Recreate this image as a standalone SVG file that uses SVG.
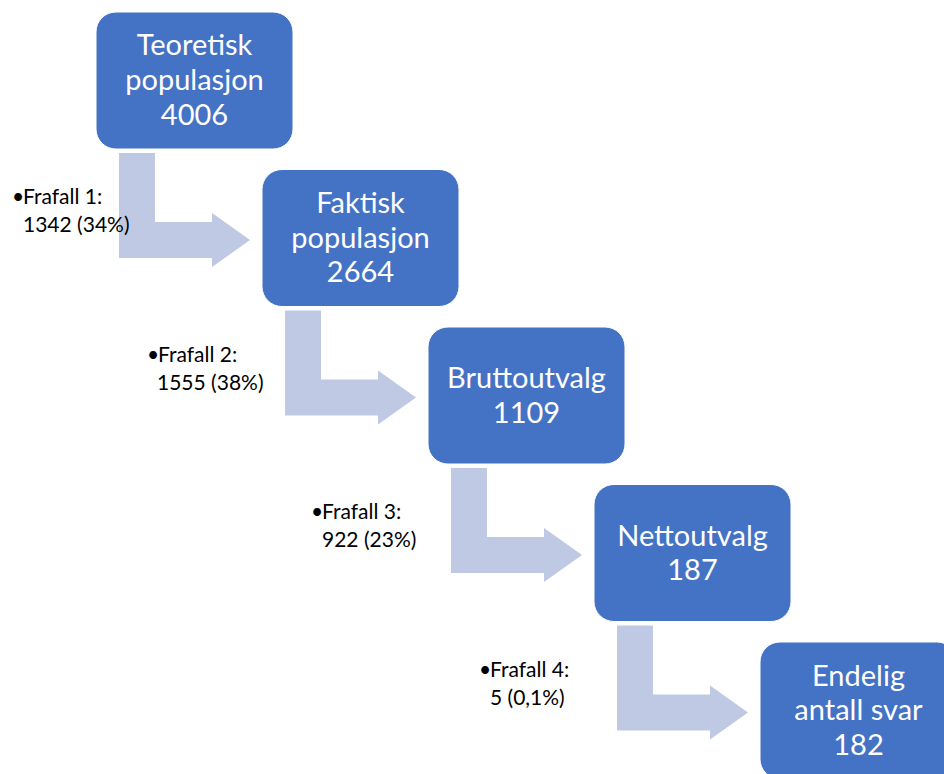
<svg xmlns="http://www.w3.org/2000/svg" width="944" height="774" viewBox="0 0 944 774">
<style>
.box{fill:#4472C4;stroke:#ffffff;stroke-width:1}
.bt{font-family:Lato,"Liberation Sans",sans-serif;font-size:29px;fill:#ffffff;text-anchor:middle}
.arr{fill:#BFC9E4}
.lb{font-family:Lato,"Liberation Sans",sans-serif;font-size:21px;fill:#000000}
</style>
<rect width="944" height="774" fill="#ffffff"/>
<g id="connectors">
<path class="arr" d="M119,153 H155 V222 H212 V213 L250,240 L212,267 V258 H119 Z"/>
<path class="arr" d="M285,310.5 H321 V379.5 H378 V370.5 L416,397.5 L378,424.5 V415.5 H285 Z"/>
<path class="arr" d="M451,468 H487 V537 H544 V528 L582,555 L544,582 V573 H451 Z"/>
<path class="arr" d="M617,625.5 H653 V694.5 H710 V685.5 L748,712.5 L710,739.5 V730.5 H617 Z"/>
</g>
<g id="labels">
<g id="label1"><text class="lb" x="12" y="204">•</text><text class="lb" x="23" y="204">Frafall 1:</text><text class="lb" x="23" y="232">1342 (34%)</text></g>
<g id="label2"><text class="lb" x="147" y="361.5">•</text><text class="lb" x="158" y="361.5">Frafall 2:</text><text class="lb" x="157" y="389.5">1555 (38%)</text></g>
<g id="label3"><text class="lb" x="311" y="519">•</text><text class="lb" x="322" y="519">Frafall 3:</text><text class="lb" x="322" y="547">922 (23%)</text></g>
<g id="label4"><text class="lb" x="479" y="676.5">•</text><text class="lb" x="490" y="676.5">Frafall 4:</text><text class="lb" x="490" y="704.5">5 (0,1%)</text></g>
</g>
<g id="node1"><rect class="box" x="96" y="12" width="197" height="137" rx="20"/>
<text class="bt" x="194.5" y="55">Teoretisk</text><text class="bt" x="194.5" y="90">populasjon</text><text class="bt" x="194.5" y="124.5">4006</text></g>
<g id="node2"><rect class="box" x="262" y="169.5" width="197" height="137" rx="20"/>
<text class="bt" x="360.5" y="213">Faktisk</text><text class="bt" x="360.5" y="247.5">populasjon</text><text class="bt" x="360.5" y="282">2664</text></g>
<g id="node3"><rect class="box" x="428" y="327" width="197" height="137" rx="20"/>
<text class="bt" x="526.5" y="388">Bruttoutvalg</text><text class="bt" x="526.5" y="422.5">1109</text></g>
<g id="node4"><rect class="box" x="594" y="484.5" width="197" height="137" rx="20"/>
<text class="bt" x="692.5" y="545.5">Nettoutvalg</text><text class="bt" x="692.5" y="580">187</text></g>
<g id="node5"><rect class="box" x="760" y="642" width="197" height="137" rx="20"/>
<text class="bt" x="858.5" y="685.5">Endelig</text><text class="bt" x="858.5" y="720">antall svar</text><text class="bt" x="858.5" y="754.5">182</text></g>
</svg>
